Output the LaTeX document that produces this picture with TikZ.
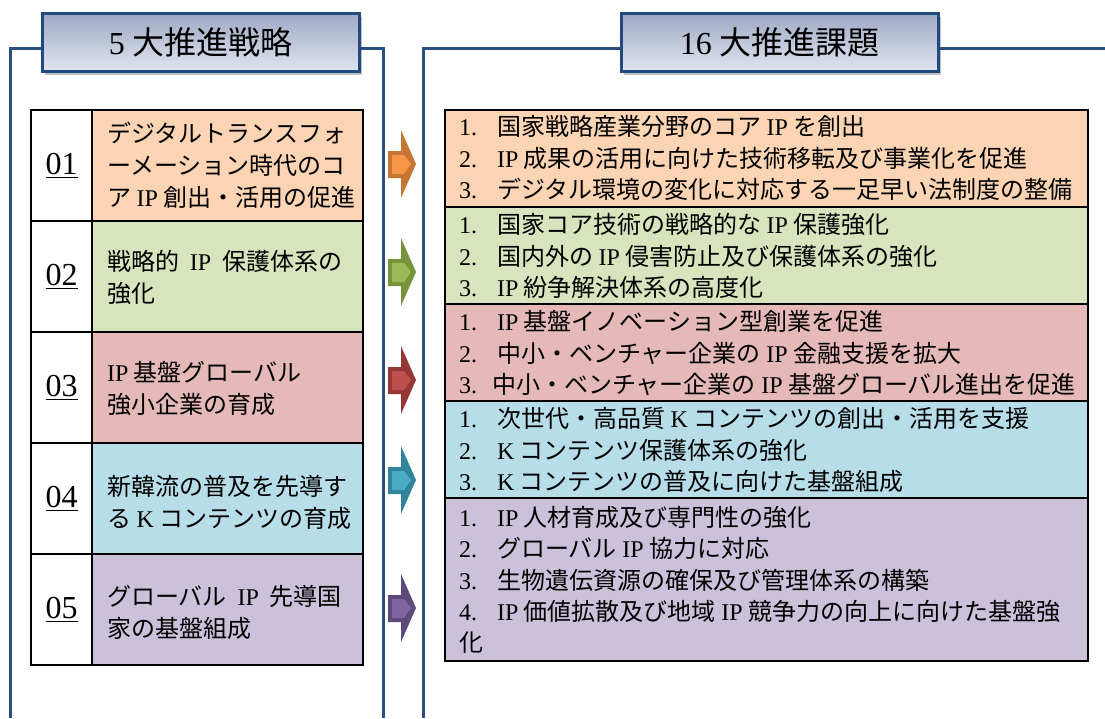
\documentclass[tikz,border=0pt]{standalone}
\usepackage{fontspec}
\setmainfont{Liberation Serif}
\newfontfamily\jp{Noto Sans CJK JP}
\usetikzlibrary{shadows}
\definecolor{frameblue}{RGB}{41,78,128}
\definecolor{titleborder}{RGB}{33,74,128}
\definecolor{titletop}{RGB}{158,169,197}
\definecolor{titlebot}{RGB}{224,228,238}
\definecolor{rowA}{RGB}{251,212,180}
\definecolor{rowB}{RGB}{215,228,189}
\definecolor{rowC}{RGB}{229,185,183}
\definecolor{rowD}{RGB}{183,221,232}
\definecolor{rowE}{RGB}{204,193,218}
\definecolor{arAo}{RGB}{196,118,50}
\definecolor{arAi}{RGB}{247,150,70}
\definecolor{arBo}{RGB}{119,147,60}
\definecolor{arBi}{RGB}{155,187,89}
\definecolor{arCo}{RGB}{149,55,53}
\definecolor{arCi}{RGB}{192,80,77}
\definecolor{arDo}{RGB}{49,132,155}
\definecolor{arDi}{RGB}{75,172,198}
\definecolor{arEo}{RGB}{95,73,122}
\definecolor{arEi}{RGB}{128,100,162}
\newcommand\lt[1]{{\rmfamily #1}}
\newcommand\barrow[3]{%
  \fill[#2] (388,#1-13) -- (401,#1-13) -- (401,#1-34) -- (416,#1) -- (401,#1+34) -- (401,#1+14) -- (388,#1+14) -- cycle;
  \fill[#3] (392,#1-9) -- (404,#1-9) -- (411,#1) -- (404,#1+10) -- (392,#1+10) -- cycle;}
\begin{document}
\begin{tikzpicture}[x=1pt,y=-1pt,
  frame/.style={draw=frameblue,line width=3pt},
  titlebox/.style={draw=titleborder,line width=3pt,top color=titletop,bottom color=titlebot,
    minimum width=317pt,minimum height=58pt,inner sep=0pt,
    drop shadow={shadow xshift=3pt,shadow yshift=-4pt,opacity=0.35,fill=black!70},
    font=\jp\fontsize{32}{38}\selectfont},
  cell/.style={draw=black,line width=2pt,anchor=north west,inner sep=0pt},
  numcell/.style={cell,fill=white,minimum width=61pt,minimum height=111pt,font=\fontsize{32}{38}\selectfont},
  lcell/.style={cell,minimum width=271pt,minimum height=111pt},
  rcell/.style={cell,minimum width=643pt},
  ltext/.style={anchor=west,inner sep=0pt,align=left,font=\jp\fontsize{24}{32}\selectfont},
  rtext/.style={anchor=west,inner sep=0pt,align=left,font=\jp\fontsize{24}{31.3}\selectfont}]
\useasboundingbox (0,0) rectangle (1105,718);
% frame corner points
\coordinate (fa) at (10,718);
\coordinate (fb) at (10,48);
\coordinate (fc) at (383,48);
\coordinate (fd) at (383,718);
\coordinate (ga) at (423,718);
\coordinate (gb) at (423,48);
\coordinate (gc) at (1105,48);
% titles
\node[titlebox] (t1) at (200.5,42) {\lt{5} 大推進戦略};
\node[titlebox] (t2) at (779.5,42) {\lt{16} 大推進課題};
% frames
\draw[frame] (fa) -- (fb) -- (fb -| t1.west);
\draw[frame] (t1.east |- fc) -- (fc) -- (fd);
\draw[frame] (ga) -- (gb) -- (gb -| t2.west);
\draw[frame] (t2.east |- gc) -- (gc);
% left table
\node[lcell,fill=rowA] (c1) at (91,109) {};
\node[lcell,fill=rowB] (c2) at (91,220) {};
\node[lcell,fill=rowC] (c3) at (91,331) {};
\node[lcell,fill=rowD] (c4) at (91,442) {};
\node[lcell,fill=rowE] (c5) at (91,553) {};
\node[numcell] (n1) at (30,109) {\underline{01}};
\node[numcell] (n2) at (30,220) {\underline{02}};
\node[numcell] (n3) at (30,331) {\underline{03}};
\node[numcell] (n4) at (30,442) {\underline{04}};
\node[numcell] (n5) at (30,553) {\underline{05}};
\node[ltext] (l1) at (107,165) {デジタルトランスフォ\\ーメーション時代のコ\\ア \lt{IP} 創出・活用の促進};
\node[ltext] (l2) at (107,277) {戦略的\ \ \lt{IP}\ \ 保護体系の\\強化};
\node[ltext] (l3) at (107,388) {\lt{IP} 基盤グローバル\\強小企業の育成};
\node[ltext] (l4) at (107,502) {新韓流の普及を先導す\\る \lt{K} コンテンツの育成};
\node[ltext] (l5) at (107,612) {グローバル\ \ \lt{IP}\ \ 先導国\\家の基盤組成};
% right table
\node[rcell,fill=rowA,minimum height=97pt] (r1) at (444,109) {};
\node[rcell,fill=rowB,minimum height=97pt] (r2) at (444,206) {};
\node[rcell,fill=rowC,minimum height=97pt] (r3) at (444,303) {};
\node[rcell,fill=rowD,minimum height=97pt] (r4) at (444,400) {};
\node[rcell,fill=rowE,minimum height=163pt] (r5) at (444,497) {};
\node[rtext] (p1) at (459,158) {%
\makebox[38pt][l]{\lt{1.}}国家戦略産業分野のコア \lt{IP} を創出\\
\makebox[38pt][l]{\lt{2.}}\lt{IP} 成果の活用に向けた技術移転及び事業化を促進\\
\makebox[38pt][l]{\lt{3.}}デジタル環境の変化に対応する一足早い法制度の整備};
\node[rtext] (p2) at (459,256) {%
\makebox[38pt][l]{\lt{1.}}国家コア技術の戦略的な \lt{IP} 保護強化\\
\makebox[38pt][l]{\lt{2.}}国内外の \lt{IP} 侵害防止及び保護体系の強化\\
\makebox[38pt][l]{\lt{3.}}\lt{IP} 紛争解決体系の高度化};
\node[rtext] (p3) at (459,353) {%
\makebox[38pt][l]{\lt{1.}}\lt{IP} 基盤イノベーション型創業を促進\\
\makebox[38pt][l]{\lt{2.}}中小・ベンチャー企業の \lt{IP} 金融支援を拡大\\
\makebox[33pt][l]{\lt{3.}}中小・ベンチャー企業の \lt{IP} 基盤グローバル進出を促進};
\node[rtext] (p4) at (459,450) {%
\makebox[38pt][l]{\lt{1.}}次世代・高品質 \lt{K} コンテンツの創出・活用を支援\\
\makebox[38pt][l]{\lt{2.}}\lt{K} コンテンツ保護体系の強化\\
\makebox[38pt][l]{\lt{3.}}\lt{K} コンテンツの普及に向けた基盤組成};
\node[rtext] (p5) at (459,580) {%
\makebox[38pt][l]{\lt{1.}}\lt{IP} 人材育成及び専門性の強化\\
\makebox[38pt][l]{\lt{2.}}グローバル \lt{IP} 協力に対応\\
\makebox[38pt][l]{\lt{3.}}生物遺伝資源の確保及び管理体系の構築\\
\makebox[38pt][l]{\lt{4.}}\lt{IP} 価値拡散及び地域 \lt{IP} 競争力の向上に向けた基盤強\\
化};
% arrows
\barrow{164}{arAo}{arAi}
\barrow{272}{arBo}{arBi}
\barrow{380}{arCo}{arCi}
\barrow{480}{arDo}{arDi}
\barrow{608}{arEo}{arEi}
\end{tikzpicture}
\end{document}
